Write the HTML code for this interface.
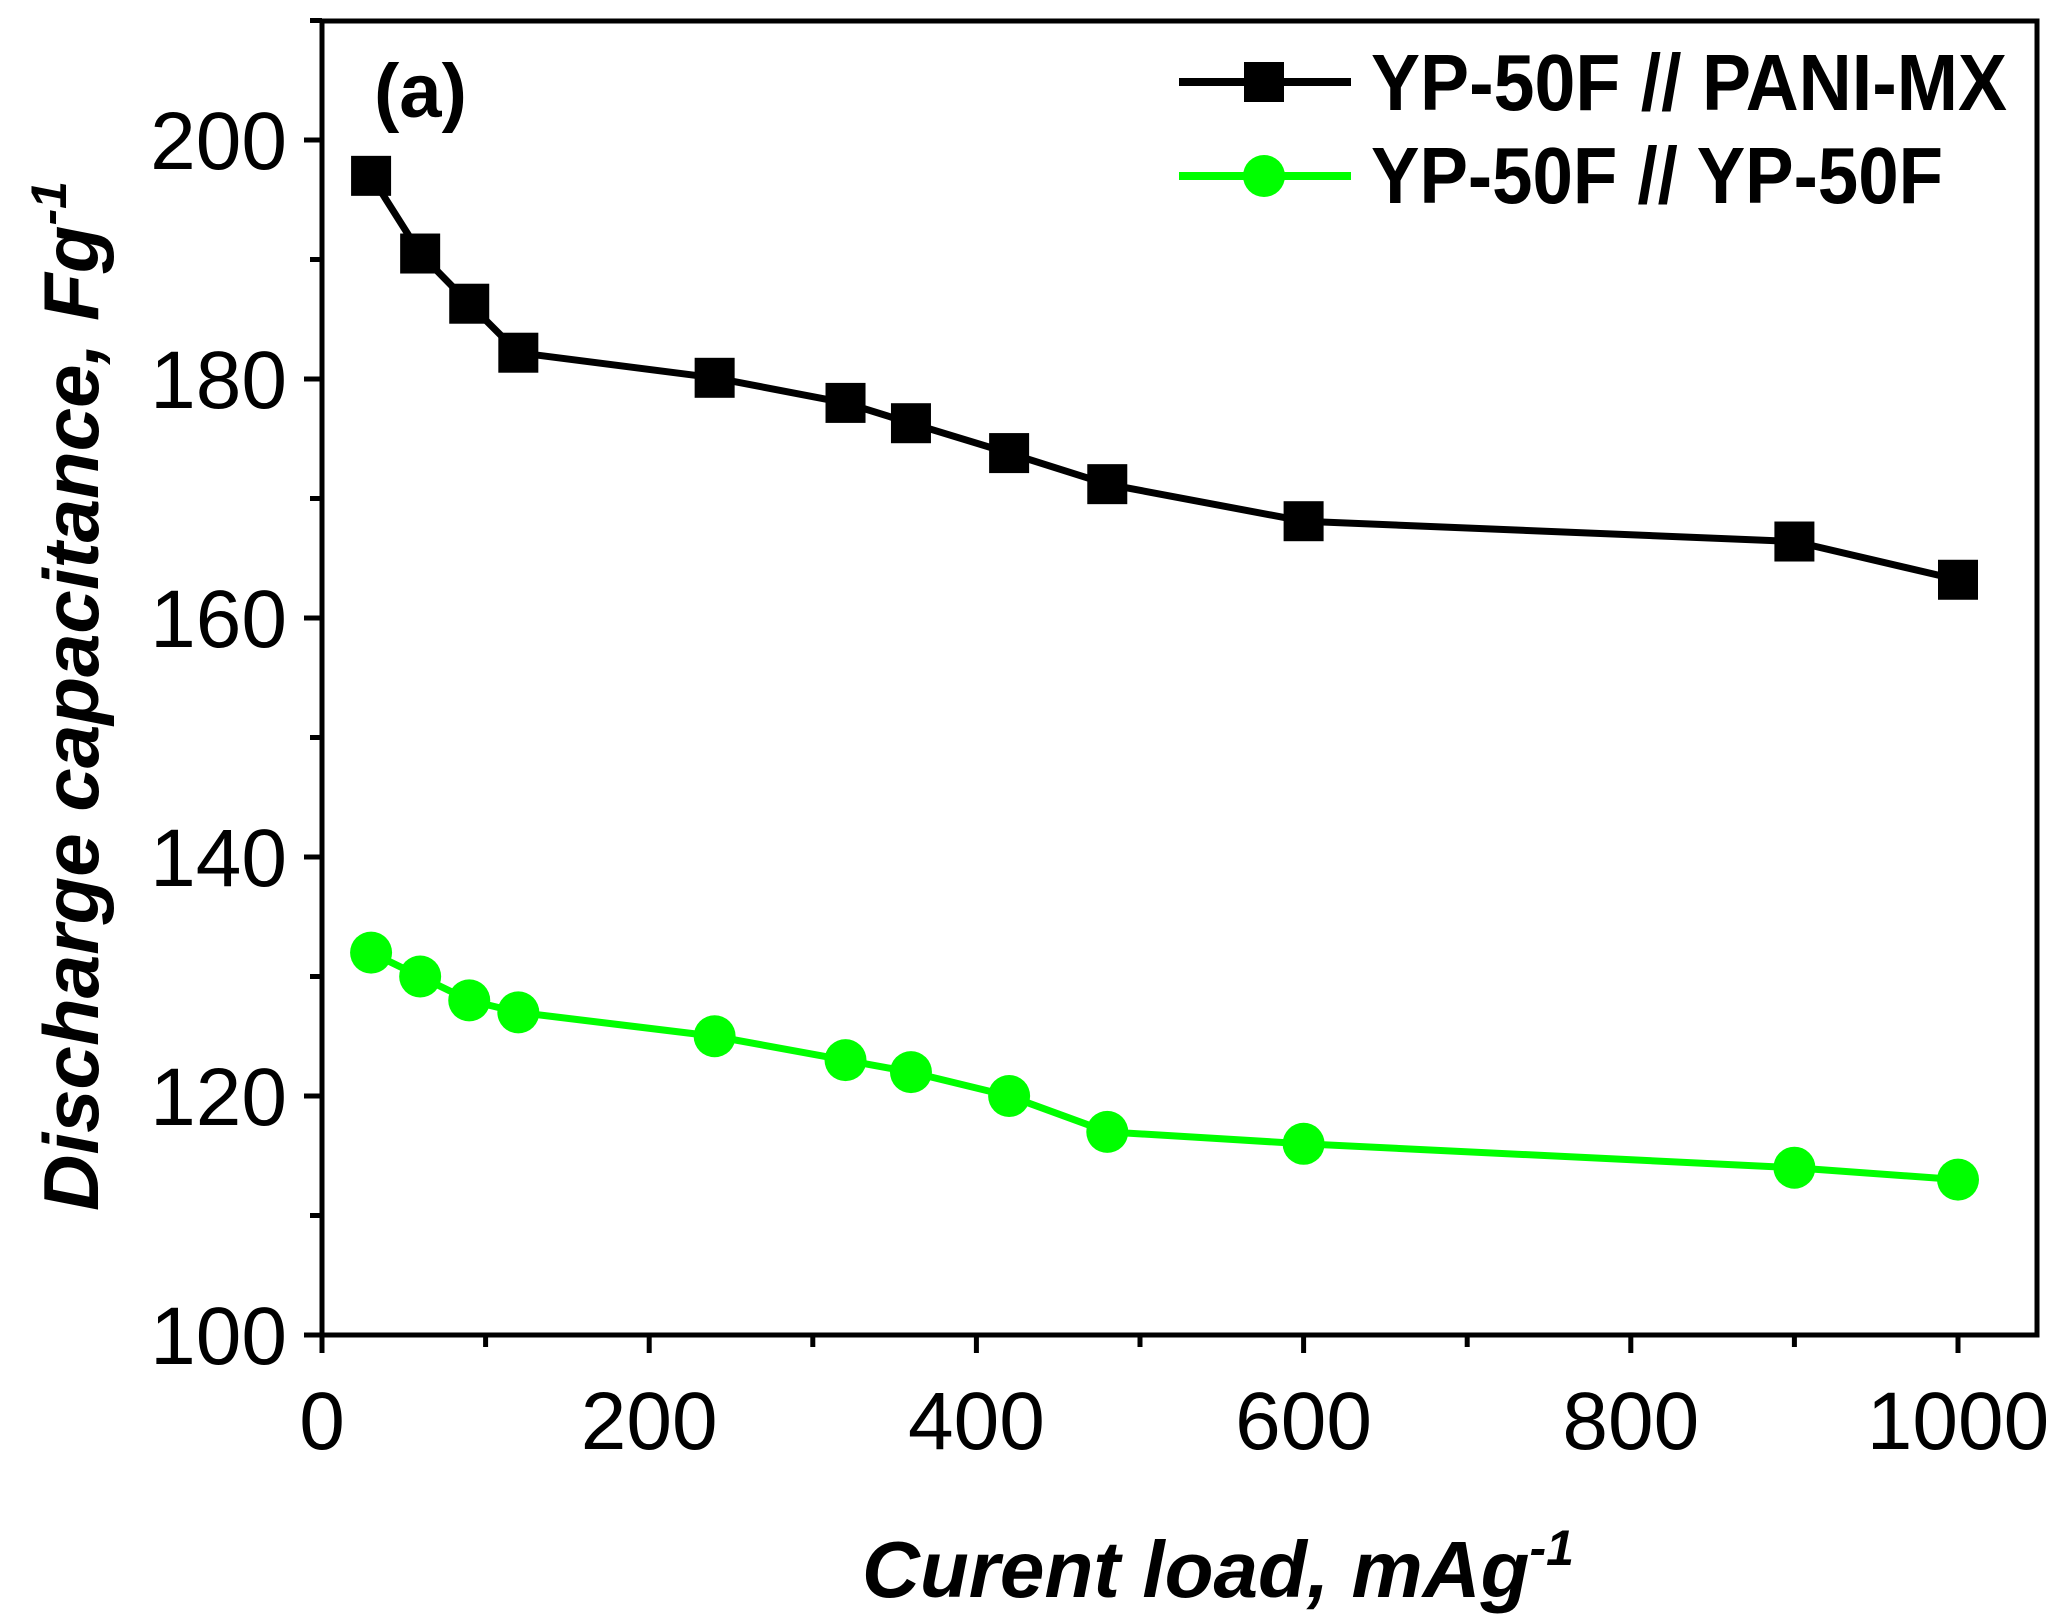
<!DOCTYPE html>
<html><head><meta charset="utf-8"><style>
html,body{margin:0;padding:0;background:#fff}
svg{display:block}
text{font-family:"Liberation Sans",Arial,sans-serif;fill:#000}
</style></head><body>
<svg id="chart" width="2056" height="1615" viewBox="0 0 2056 1615" xmlns="http://www.w3.org/2000/svg">
<rect x="322" y="21" width="1715" height="1314" fill="none" stroke="#000" stroke-width="5"/>
<g id="axes"></g>
<g id="series"></g>
<text x="374" y="117" font-size="76" font-weight="bold">(a)</text>
<text transform="translate(98,696) rotate(-90)" text-anchor="middle" font-size="78" font-weight="bold" font-style="italic" textLength="1030" lengthAdjust="spacingAndGlyphs">Discharge capacitance, Fg<tspan dy="-32" font-size="50">-1</tspan></text>
<text x="1218" y="1597" text-anchor="middle" font-size="80" font-weight="bold" font-style="italic" textLength="712" lengthAdjust="spacingAndGlyphs">Curent load, mAg<tspan dy="-32" font-size="50">-1</tspan></text>
<g>
<line x1="1179" y1="82" x2="1351" y2="82" stroke="#000" stroke-width="8"/>
<rect x="1244" y="62" width="40" height="40" fill="#000"/>
<text x="1371" y="110" font-size="80" font-weight="bold" textLength="636" lengthAdjust="spacingAndGlyphs">YP-50F // PANI-MX</text>
<line x1="1179" y1="176" x2="1351" y2="176" stroke="#00ff00" stroke-width="8"/>
<circle cx="1264" cy="176" r="21" fill="#00ff00"/>
<text x="1371" y="203" font-size="80" font-weight="bold" textLength="572" lengthAdjust="spacingAndGlyphs">YP-50F // YP-50F</text>
</g>
</svg>
<script>
const xValues=[30,60,90,120,240,320,360,420,480,600,900,1000];
const paniValues=[197,190.5,186.3,182.2,180.1,178,176.3,173.8,171.2,168.1,166.4,163.2];
const ypValues=[132,130,128,127,125,123,122,120,117,116,114,113];
const xTicks=[0,200,400,600,800,1000];
const yTicks=[100,120,140,160,180,200];
const NS="http://www.w3.org/2000/svg";
const X0=322,X1=1958,Y0=1335,Y1=140;
function sx(v){return X0+(v-0)/(1000-0)*(X1-X0);}
function sy(v){return Y0-(v-100)/(200-100)*(Y0-Y1);}
function mk(tag,attrs,parent){const e=document.createElementNS(NS,tag);for(const k in attrs)e.setAttribute(k,attrs[k]);parent.appendChild(e);return e;}
const axes=document.getElementById('axes');
xTicks.forEach((t,i)=>{
  const l=mk('line',{x1:sx(t),x2:sx(t),y1:Y0,y2:Y0+18,stroke:'#000','stroke-width':5},axes);
  
  
  const tx=mk('text',{x:sx(t),y:1449,'text-anchor':'middle','font-size':82},axes);
  tx.textContent=t;
  
  
  if(i<xTicks.length-1){
    const m=mk('line',{x1:sx(t+100),x2:sx(t+100),y1:Y0,y2:Y0+12,stroke:'#000','stroke-width':5},axes);
    
    
  }
});
yTicks.forEach((t,i)=>{
  const l=mk('line',{x1:X0-18,x2:X0,y1:sy(t),y2:sy(t),stroke:'#000','stroke-width':5},axes);
  
  
  const tx=mk('text',{x:287,y:sy(t)+29,'text-anchor':'end','font-size':82},axes);
  tx.textContent=t;
  
  
  const m=mk('line',{x1:X0-12,x2:X0,y1:sy(t+10),y2:sy(t+10),stroke:'#000','stroke-width':5},axes);
  
  
});
const series=document.getElementById('series');
function drawSeries(vals,color,shape,name){
  const pts=xValues.map((x,i)=>sx(x)+','+sy(vals[i])).join(' ');
  const pl=mk('polyline',{points:pts,fill:'none',stroke:color,'stroke-width':7,'stroke-linejoin':'round'},series);
  
  
  xValues.forEach((x,i)=>{
    let e;
    if(shape==='square') e=mk('rect',{x:sx(x)-20,y:sy(vals[i])-20,width:40,height:40,fill:color},series);
    else e=mk('circle',{cx:sx(x),cy:sy(vals[i]),r:21,fill:color},series);
    
    
  });
}
drawSeries(ypValues,'#00ff00','circle','yp50f-yp50f');
drawSeries(paniValues,'#000','square','yp50f-pani-mx');
</script>
</body></html>
